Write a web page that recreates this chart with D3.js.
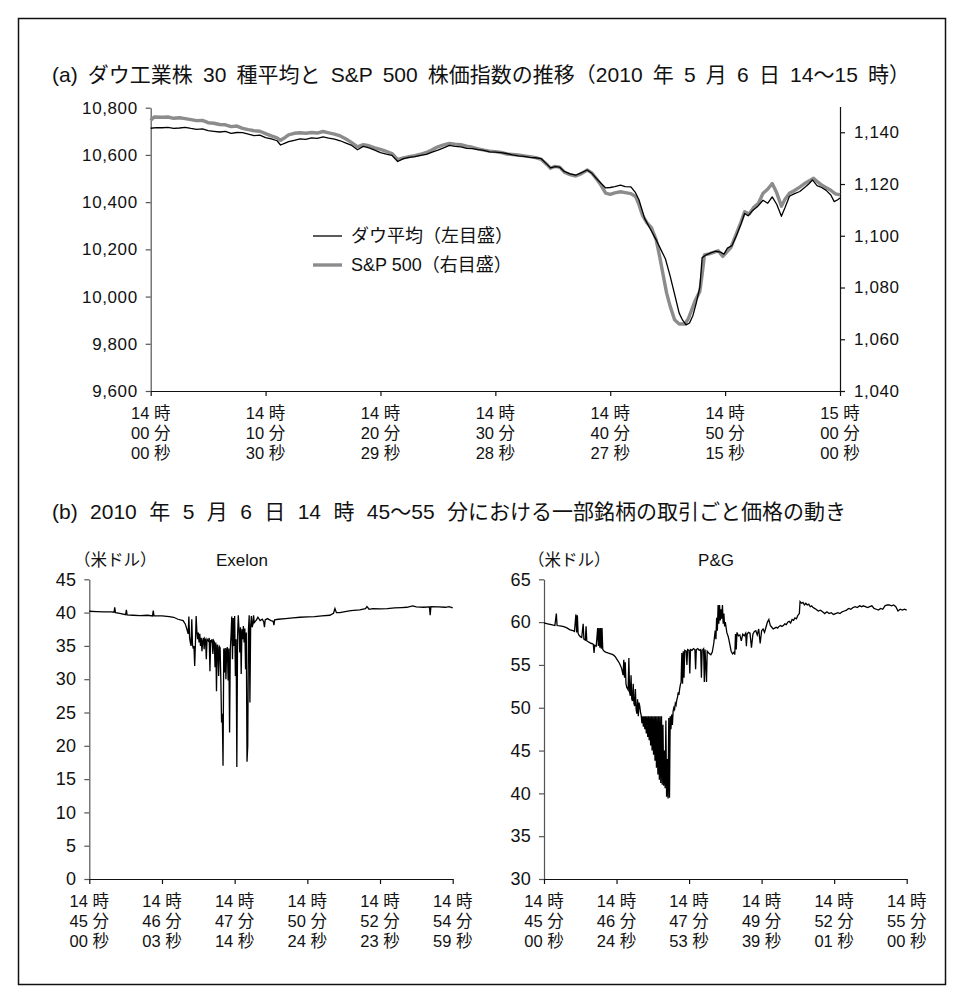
<!DOCTYPE html>
<html><head><meta charset="utf-8">
<script src="https://cdn.jsdelivr.net/npm/d3@7"></script>
<style>
body{margin:0;background:#fff}
svg{display:block}
text{font-family:"Liberation Sans",Arial,"Noto Sans CJK JP",sans-serif;fill:#111}
</style></head><body>
<svg id="c" width="964" height="1002"></svg>
<script>
// ---------- DATA ----------
const titleA = "(a) ダウ工業株 30 種平均と S&P 500 株価指数の推移（2010 年 5 月 6 日 14〜15 時）";
const titleB = "(b) 2010 年 5 月 6 日 14 時 45〜55 分における一部銘柄の取引ごと価格の動き";
const legendLabels = ["ダウ平均（左目盛）", "S&P 500（右目盛）"];
const dowTicks = [9600, 9800, 10000, 10200, 10400, 10600, 10800];
const spxTicks = [1040, 1060, 1080, 1100, 1120, 1140];
const topTickLabels = [["14 時","00 分","00 秒"],["14 時","10 分","30 秒"],["14 時","20 分","29 秒"],["14 時","30 分","28 秒"],["14 時","40 分","27 秒"],["14 時","50 分","15 秒"],["15 時","00 分","00 秒"]];
const exelonTickLabels = [["14 時","45 分","00 秒"],["14 時","46 分","03 秒"],["14 時","47 分","14 秒"],["14 時","50 分","24 秒"],["14 時","52 分","23 秒"],["14 時","54 分","59 秒"]];
const pgTickLabels = [["14 時","45 分","00 秒"],["14 時","46 分","24 秒"],["14 時","47 分","53 秒"],["14 時","49 分","39 秒"],["14 時","52 分","01 秒"],["14 時","55 分","00 秒"]];
const exelonTicks = [0, 5, 10, 15, 20, 25, 30, 35, 40, 45];
const pgTicks = [30, 35, 40, 45, 50, 55, 60, 65];

// time (minutes after 14:00) and Dow average
const dowT = [0,0.5,1,1.5,2,2.5,3,3.5,4,4.5,5,5.5,6,6.5,7,7.5,8,8.5,9,9.5,10,10.5,11,11.3,11.7,12,12.5,13,13.5,14,14.5,15,15.5,16,16.5,17,17.5,18,18.5,19,19.5,20,20.5,21,21.5,22,22.5,23,23.5,24,24.5,25,25.5,26,26.5,27,27.5,28,28.5,29,29.5,30,30.5,31,31.5,32,32.5,33,33.5,34,34.5,34.8,35.2,35.6,36,36.5,37,37.5,38,38.4,38.8,39.2,39.6,40,40.4,40.9,41.3,41.8,42.2,42.5,43,43.5,44,44.4,44.8,45.2,45.6,46,46.3,46.6,46.9,47.2,47.5,47.8,48,48.4,48.8,49.2,49.6,49.9,50.2,50.6,51,51.4,51.7,52,52.4,52.8,53.3,53.7,54.1,54.5,54.9,55.2,55.6,56,56.5,57,57.3,57.6,58,58.4,58.8,59.2,59.5,59.8,60];
const dowV = [10713,10716,10715,10717,10712,10714,10717,10712,10708,10710,10703,10700,10697,10700,10691,10695,10694,10688,10682,10684,10673,10668,10660,10642,10650,10656,10662,10668,10666,10672,10670,10676,10671,10667,10660,10650,10640,10622,10636,10630,10620,10610,10603,10598,10572,10584,10590,10593,10598,10602,10612,10620,10630,10640,10636,10634,10628,10627,10622,10619,10613,10612,10610,10606,10600,10596,10594,10590,10588,10584,10560,10545,10550,10548,10530,10520,10514,10525,10536,10522,10500,10480,10460,10462,10466,10472,10466,10465,10440,10410,10330,10285,10240,10200,10160,10090,10010,9930,9900,9880,9888,9920,9975,10040,10165,10178,10186,10192,10188,10180,10205,10216,10260,10310,10352,10342,10365,10380,10408,10395,10422,10390,10340,10375,10425,10435,10445,10465,10478,10494,10470,10462,10450,10430,10402,10410,10418];

// time and S&P 500
const spxT = [0,0.3,1,1.5,2,2.5,3,3.5,4,4.5,5,5.5,6,6.5,7,7.5,8,8.5,9,9.5,10,10.5,11,11.3,11.7,12,12.5,13,13.5,14,14.5,15,15.5,16,16.5,17,17.5,18,18.5,19,19.5,20,20.5,21,21.5,22,22.5,23,23.5,24,24.5,25,25.5,26,26.5,27,27.5,28,28.5,29,29.5,30,30.5,31,31.5,32,32.5,33,33.5,34,34.5,34.8,35.2,35.6,36,36.5,37,37.5,38,38.4,38.8,39.2,39.6,40,40.4,40.9,41.3,41.8,42.2,42.5,42.8,43.2,43.6,44,44.3,44.6,44.9,45.2,45.6,46,46.5,46.8,47.1,47.4,47.8,48,48.2,48.6,49,49.4,49.8,50.1,50.5,51,51.4,51.7,52.1,52.5,52.9,53.3,53.7,54.1,54.5,54.9,55.2,55.6,56,56.5,57,57.3,57.7,58,58.4,58.8,59.2,59.6,60];
const spxV = [1144.6,1145.9,1145.8,1145.9,1145.4,1145.6,1145.3,1144.9,1144.5,1144.6,1143.7,1143.5,1143.0,1142.9,1142.2,1142.4,1141.5,1141.0,1140.6,1140.4,1139.5,1138.6,1137.8,1136.9,1138.0,1139.0,1139.6,1139.8,1139.6,1139.9,1139.7,1140.3,1139.8,1139.3,1138.6,1137.4,1136.0,1134.4,1135.2,1134.8,1134.0,1133.4,1132.6,1131.8,1129.4,1130.1,1130.6,1131.0,1131.5,1132.2,1133.2,1134.4,1135.1,1135.7,1135.4,1135.2,1134.6,1134.2,1133.6,1133.1,1132.7,1132.5,1132.2,1131.6,1131.4,1131.2,1130.9,1130.6,1130.2,1129.5,1127.5,1126.1,1126.8,1126.5,1124.6,1123.6,1123.1,1124.0,1125.4,1124.3,1122.0,1119.5,1116.5,1116.0,1116.6,1117.0,1116.7,1116.3,1115.2,1112.0,1108.0,1105.0,1103.0,1098.4,1092.0,1085.0,1078.0,1073.0,1067.5,1065.9,1065.9,1068.0,1071.5,1075.0,1078.5,1085.0,1092.6,1093.0,1093.6,1094.2,1092.0,1093.5,1095.4,1101.0,1105.5,1109.3,1108.4,1111.0,1112.6,1116.4,1118.0,1120.2,1116.5,1111.4,1114.0,1116.4,1117.4,1118.8,1120.4,1121.2,1122.2,1121.0,1119.6,1118.6,1117.6,1116.2,1115.8];

// Exelon: trade sequence index (0-500) and price (USD)
const exelonI = [0,10,20,30,34,35,36,42,50,51,52,60,70,80,87,88,89,100,110,116,122,129,132,134,136,137,138,139,140,141,142,143,144,145,146,147,148,149,150,151,152,153,154,155,156,157,158,159,160,161,162,164,165,166,167,168,169,170,171,172,173,174,175,176,177,178,179,180,181,182,183,184,185,186,187,188,189,190,191,192,193,194,195,196,197,198,199,200,201,202,203,204,205,206,207,208,209,210,211,212,213,214,215,216,217,218,219,220,221,222,223,224,225,226,227,230,232,235,238,240,241,242,245,250,253,254,255,260,270,280,290,300,310,320,331,336,338,340,345,350,360,372,380,382,385,390,400,410,420,430,437,445,450,460,468,469,470,480,490,495,500];
const exelonP = [40.2,40.15,40.1,40.1,40.05,40.8,40.0,39.9,39.7,40.4,39.65,39.6,39.55,39.6,39.5,40.3,39.5,39.5,39.4,39.3,39.0,38.8,38.3,37.6,36.8,39.4,36.2,35.5,35.0,39.0,35.2,34.6,35.0,32.0,35.3,39.5,37.2,36.0,37.0,35.5,36.8,35.0,36.2,34.2,35.8,36.2,34.5,36.1,35.9,33.0,36.0,35.7,36.2,31.2,35.9,35.5,36.0,33.8,35.8,35.6,31.8,35.5,28.2,35.2,34.8,30.5,34.9,34.7,29.8,23.5,24.8,17.0,34.6,31.0,34.7,30.0,34.5,34.8,29.8,34.6,22.0,34.5,36.5,39.4,33.0,39.2,35.0,39.5,30.5,36.0,16.8,36.5,39.6,37.5,34.0,37.8,30.8,37.5,36.0,38.0,35.5,37.6,31.5,37.0,17.6,20.0,37.5,39.6,26.5,38.0,39.5,37.8,38.2,39.6,38.5,38.9,39.3,38.8,39.0,38.6,37.8,38.9,39.1,38.8,38.7,38.1,38.9,39.0,39.1,39.2,39.3,39.35,39.4,39.5,39.6,39.9,40.6,40.0,40.0,40.1,40.3,40.4,40.6,40.9,40.5,40.6,40.55,40.6,40.7,40.75,40.8,41.0,40.85,40.8,40.85,39.6,40.9,40.85,40.8,40.9,40.7];

// P&G: trade sequence index (0-500) and price (USD)
const pgI = [0,5,10,15,17,18,22,26,30,32,36,40,42,44,45,46,47,48,50,52,54,55,57,58,59,61,63,65,66,68,69,70,72,74,75,76,77,78,79,80,81,83,85,88,92,95,98,101,104,107,109,110,111,112,113,114,116,117,118,119,120,121,122,123,124,125,126,127,128,129,130,131,132,133,134,135,136,137,138,139,140,141,142,143,144,145,146,147,148,149,150,151,152,153,154,155,156,157,158,159,160,161,162,163,164,165,166,167,168,169,170,171,172,173,174,175,176,177,178,179,180,181,182,183,184,185,186,187,188,189,190,191,192,193,194,196,197,198,200,201,202,204,206,208,209,210,212,214,216,217,218,220,221,222,224,225,227,230,232,234,236,237,238,239,240,241,242,243,244,245,246,247,248,249,250,252,254,256,258,260,262,263,264,265,266,268,270,272,274,276,278,279,280,282,284,286,288,290,292,294,296,298,300,302,304,306,308,310,312,314,316,318,320,322,324,326,328,330,332,334,336,338,340,342,344,346,348,350,352,353,355,357,359,361,363,365,367,369,371,373,375,378,381,384,387,390,393,396,399,402,405,408,411,414,417,420,423,426,429,432,435,438,440,443,446,449,452,455,458,461,464,467,470,473,476,479,482,485,488,491,494,497,500];
const pgP = [59.9,59.8,59.7,59.6,61.0,59.6,59.55,59.5,59.4,59.3,59.1,59.0,58.9,60.9,58.8,60.8,58.7,58.5,58.3,58.2,59.8,58.0,57.9,59.5,57.8,57.7,57.6,57.5,57.5,57.4,56.4,57.3,57.2,59.3,57.2,59.3,57.0,59.3,56.9,59.3,56.8,56.6,56.5,56.4,56.3,56.2,56.0,55.6,55.2,54.6,53.8,55.6,53.5,55.3,52.8,52.4,52.1,55.8,51.8,51.4,53.8,51.0,50.8,52.8,50.5,50.2,52.2,49.8,49.3,51.0,49.0,50.6,50.2,49.5,49.1,48.2,49.0,47.8,49.0,47.5,49.0,47.0,49.0,46.6,49.0,46.2,49.0,45.6,49.0,45.0,49.0,44.5,49.0,43.8,49.0,43.0,49.0,42.2,49.0,41.6,49.0,41.2,49.0,41.0,48.0,40.9,45.0,40.6,48.5,39.6,44.0,39.4,48.8,39.5,49.0,47.5,49.2,48.0,49.6,50.0,49.8,50.5,50.3,50.9,51.2,51.8,51.5,52.2,52.7,53.0,56.4,52.8,56.6,53.5,56.7,56.6,55.0,56.8,56.7,54.0,56.8,56.7,56.9,56.8,54.5,56.8,56.9,56.7,56.8,53.5,56.7,56.9,53.0,56.8,53.0,56.6,56.4,56.2,56.5,57.5,59.0,58.0,60.5,59.0,62.0,59.8,62.0,60.2,61.5,60.4,62.0,59.8,61.0,59.5,60.0,58.8,58.3,57.5,56.6,56.3,56.5,56.2,58.6,56.8,58.8,58.4,58.5,57.8,58.6,58.4,58.7,57.2,58.6,58.8,58.7,57.0,58.6,58.9,59.0,58.5,59.2,57.5,59.0,59.2,58.8,59.4,60.0,60.3,59.6,59.4,59.2,59.3,59.4,59.3,59.5,59.6,59.5,59.6,59.8,59.7,60.0,60.1,59.9,60.3,60.2,60.5,60.4,60.8,61.0,62.4,62.2,62.3,62.0,62.2,62.0,62.1,61.8,61.9,61.7,61.6,61.5,61.3,61.4,61.2,61.0,61.2,61.0,61.1,60.9,61.0,61.1,61.0,61.2,61.3,61.4,61.6,61.5,61.7,61.8,61.7,61.9,61.8,61.9,61.8,61.7,61.8,61.9,61.6,61.5,61.4,61.6,61.5,61.9,62.0,62.0,61.9,62.0,61.8,61.3,61.5,61.4,61.5,61.4];

// ---------- DRAW ----------
const svg = d3.select("#c");
const FS = 17;

svg.append("rect").attr("x", 18.5).attr("y", 18.5).attr("width", 927).attr("height", 966)
  .attr("fill", "none").attr("stroke", "#111").attr("stroke-width", 1.5);

function fitTitle(txt, y, width) {
  const t = svg.append("text").attr("x", 52).attr("y", y).attr("font-size", 21).text(txt);
  const nSpaces = (txt.match(/ /g) || []).length;
  const w = t.node().getComputedTextLength();
  const ws = Math.max(0, (width - w) / nSpaces);
  t.style("word-spacing", ws + "px");
}
fitTitle(titleA, 82, 858);
fitTitle(titleB, 519, 794);

function styleAxis(g, color) {
  g.select(".domain").attr("stroke", color).attr("stroke-width", 1.2);
  g.selectAll(".tick line").attr("stroke", color).attr("stroke-width", 1.2);
  g.selectAll(".tick text").attr("font-size", FS).attr("fill", "#111")
    .attr("font-family", '"Liberation Sans",Arial,sans-serif').style("letter-spacing", "0.6px");
}
function multiLabels(g, x, yAxis, labels) {
  labels.forEach((lines, i) => {
    const t = g.append("text").attr("text-anchor", "middle").attr("font-size", 16.5);
    lines.forEach((s, k) => t.append("tspan").attr("x", x(i)).attr("y", yAxis + 28 + k * 20).text(s));
  });
}

// ----- top chart -----
const xT = d3.scaleLinear().domain([0, 60]).range([150.7, 840]);
const yL = d3.scaleLinear().domain([9600, 10800]).range([391, 107.7]);
const yR = d3.scaleLinear().domain([1040, 1150]).range([391, 106.4]);

const gL = svg.append("g").attr("transform", `translate(${xT(0)},0)`)
  .call(d3.axisLeft(yL).tickValues(dowTicks).tickFormat(d3.format(",")).tickSize(5).tickSizeOuter(0).tickPadding(8));
styleAxis(gL, "#555");
const gR = svg.append("g").attr("transform", `translate(${xT(60)},0)`)
  .call(d3.axisRight(yR).tickValues(spxTicks).tickFormat(d3.format(",")).tickSize(5).tickSizeOuter(0).tickPadding(9));
styleAxis(gR, "#111");
const topTickPos = topTickLabels.map((d, i) => i * 60 / (topTickLabels.length - 1));
const gX = svg.append("g").attr("transform", `translate(0,${yL(9600)})`)
  .call(d3.axisBottom(xT).tickValues(topTickPos).tickFormat("").tickSize(5).tickSizeOuter(0));
styleAxis(gX, "#111");
multiLabels(svg.append("g"), i => xT(topTickPos[i]), yL(9600), topTickLabels);

const lineSpx = d3.line().x((d, i) => xT(spxT[i])).y(d => yR(d)).curve(d3.curveLinear);
svg.append("path").datum(spxV).attr("d", lineSpx).attr("fill", "none")
  .attr("stroke", "#8c8c8c").attr("stroke-width", 3.4).attr("stroke-linejoin", "round");
const lineDow = d3.line().x((d, i) => xT(dowT[i])).y(d => yL(d));
svg.append("path").datum(dowV).attr("d", lineDow).attr("fill", "none")
  .attr("stroke", "#000").attr("stroke-width", 1.3).attr("stroke-linejoin", "round");

// legend
const leg = svg.append("g");
[["#000", 1.3], ["#8c8c8c", 3.4]].forEach((s, i) => {
  const y = 236 + i * 29;
  leg.append("line").attr("x1", 313).attr("x2", 342).attr("y1", y).attr("y2", y)
    .attr("stroke", s[0]).attr("stroke-width", s[1]);
  leg.append("text").attr("x", 351).attr("y", y + 6).attr("font-size", 18).text(legendLabels[i]);
});

// ----- bottom charts -----
function bottomChart(x0, x1, domainY, ticks, idx, vals, tickLabels, name, nameX, unitX) {
  const x = d3.scaleLinear().domain([0, 500]).range([x0, x1]);
  const y = d3.scaleLinear().domain(domainY).range([879, 579.3]);
  const gy = svg.append("g").attr("transform", `translate(${x0},0)`)
    .call(d3.axisLeft(y).tickValues(ticks).tickSize(5).tickSizeOuter(0).tickPadding(8));
  styleAxis(gy, "#555");
  gy.selectAll(".tick text").attr("font-size", 18).style("letter-spacing", "0.3px");
  const tpos = tickLabels.map((d, i) => i * 100);
  const gx = svg.append("g").attr("transform", `translate(0,${y(domainY[0])})`)
    .call(d3.axisBottom(x).tickValues(tpos).tickFormat("").tickSize(5).tickSizeOuter(0));
  styleAxis(gx, "#111");
  multiLabels(svg.append("g"), i => x(tpos[i]), y(domainY[0]), tickLabels);
  const line = d3.line().x((d, i) => x(idx[i])).y(d => y(d));
  svg.append("path").datum(vals).attr("d", line).attr("fill", "none")
    .attr("stroke", "#000").attr("stroke-width", 1.3);
  svg.append("text").attr("x", unitX).attr("y", 566).attr("font-size", 16.5).text("（米ドル）");
  svg.append("text").attr("x", nameX).attr("y", 566).attr("text-anchor", "middle").attr("font-size", 17).text(name);
}
bottomChart(89.3, 452.7, [0, 45], exelonTicks, exelonI, exelonP, exelonTickLabels, "Exelon", 242, 74);
bottomChart(544, 906.7, [30, 65], pgTicks, pgI, pgP, pgTickLabels, "P&G", 716, 528);
</script>
</body></html>
